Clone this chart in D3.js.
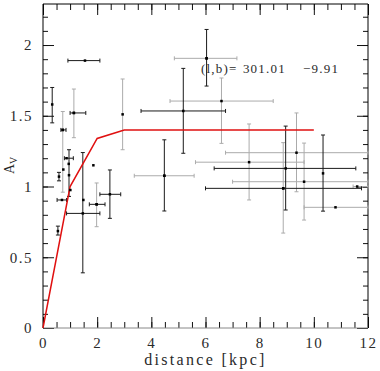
<!DOCTYPE html>
<html>
<head>
<meta charset="utf-8">
<script src="https://cdn.jsdelivr.net/npm/d3@7"></script>
<style>
  body { margin: 0; background: #fff; }
  text { font-family: "Liberation Serif", serif; fill: #2a2a2a; }
</style>
</head>
<body>
<svg id="chart" width="380" height="371"></svg>
<script>
// points with dark error bars
const blackX   = [1.55, 0.34, 1.14, 0.73, 0.87, 0.95, 0.75, 0.59, 0.96, 1.01, 0.70, 1.49, 1.47, 1.86, 1.98, 2.47, 0.55, 4.48, 6.04, 5.18, 8.96, 8.87, 10.34]
const blackY   = [1.89, 1.58, 1.52, 1.40, 1.20, 1.16, 1.12, 1.07, 1.08, 0.975, 0.905, 0.905, 0.81, 1.15, 0.874, 0.945, 0.685, 1.076, 1.906, 1.534, 1.128, 0.987, 1.093]
const blackXlo = [0.92, null, 1.00, 0.66, 0.79, null, null, null, null, null, 0.52, null, 0.87, null, 1.71, 2.10, null, null, null, 3.62, 6.32, 6.00, null]
const blackXhi = [2.10, null, 1.58, 0.85, 1.12, null, null, null, null, null, 0.87, null, 2.10, null, 2.29, 2.87, null, null, null, 6.74, 11.55, 11.76, null]
const blackYlo = [null, 1.45, null, null, null, null, null, 1.04, 0.93, null, null, null, 0.39, null, null, 0.775, 0.657, 0.827, 1.71, 1.235, 0.834, null, 0.826]
const blackYhi = [null, 1.70, null, null, null, null, null, 1.10, 1.26, null, null, null, 1.24, null, null, 1.117, 0.72, 1.33, 2.11, 1.835, 1.427, null, 1.364]

// points with light error bars
const greyX   = [2.94, 6.59, 7.61, 9.36, 9.64, 10.8, 11.6, 1.14, 0.73, 4.48, 6.04, 8.87, 1.98]
const greyY   = [1.51, 1.604, 1.172, 1.239, 1.034, 0.853, 1.0, 1.52, 1.40, 1.076, 1.906, 0.987, 0.874]
const greyXlo = [null, 4.69, 5.63, 6.74, 7.00, 9.64, 11.45, null, null, 3.37, 4.85, null, null]
const greyXhi = [null, 8.50, 9.64, 12.0, 12.0, 12.0, 12.0, null, null, 5.58, 7.16, null, null]
const greyYlo = [1.26, 1.305, 0.905, 0.963, 0.763, null, null, 1.345, 0.96, null, null, 0.671, 0.716]
const greyYhi = [1.76, 1.767, 1.442, 1.52, 1.307, null, null, 1.689, 1.53, null, null, 1.31, 1.025]

// extinction model
const modelX = [0, 1, 2, 3, 10]
const modelY = [0, 1.0, 1.34, 1.40, 1.40]

const xTicks = [0, 2, 4, 6, 8, 10, 12]
const yTicks = [0, 0.5, 1, 1.5, 2]
const lonLat = ['(l,b)=', '301.01', '\u22129.91']

const margin = {left: 43, top: 4, right: 12, bottom: 43}
const w = 380, h = 371
const svg = d3.select('#chart')

const x = d3.scaleLinear().domain([0, 12]).range([margin.left, w - margin.right])
const y = d3.scaleLinear().domain([0, 2.29]).range([h - margin.bottom, margin.top])
const x0 = margin.left, x1 = w - margin.right, y0 = h - margin.bottom, y1 = margin.top

// minor ticks
const xMinor = d3.range(0, 12.01, 0.5)
const yMinor = d3.range(0, 2.29, 0.1)
svg.append('g').attr('transform', `translate(0,${y0})`)
  .call(d3.axisBottom(x).tickValues(xMinor).tickSize(-6).tickFormat(''))
svg.append('g').attr('transform', `translate(0,${y1})`)
  .call(d3.axisTop(x).tickValues(xMinor).tickSize(-6).tickFormat(''))
svg.append('g').attr('transform', `translate(${x0},0)`)
  .call(d3.axisLeft(y).tickValues(yMinor).tickSize(-5).tickFormat(''))
svg.append('g').attr('transform', `translate(${x1},0)`)
  .call(d3.axisRight(y).tickValues(yMinor).tickSize(-5).tickFormat(''))

// major ticks + labels
svg.append('g').attr('transform', `translate(0,${y0})`)
  .call(d3.axisBottom(x).tickValues(xTicks).tickSize(-11).tickPadding(9).tickFormat(d3.format('d')))
svg.append('g').attr('transform', `translate(0,${y1})`)
  .call(d3.axisTop(x).tickValues(xTicks).tickSize(-11).tickFormat(''))
svg.append('g').attr('transform', `translate(${x0},0)`)
  .call(d3.axisLeft(y).tickValues(yTicks).tickSize(-11).tickPadding(10).tickFormat(d => d))
svg.append('g').attr('transform', `translate(${x1},0)`)
  .call(d3.axisRight(y).tickValues(yTicks).tickSize(-11).tickFormat(''))

svg.selectAll('.domain').remove()
svg.selectAll('.tick line').attr('stroke', '#111')
svg.selectAll('.tick text').attr('font-size', 15).attr('font-family', '"Liberation Serif", serif')
  .attr('fill', '#2a2a2a').style('letter-spacing', '1.5px')

// frame
svg.append('line').attr('x1', x0).attr('x2', x0).attr('y1', y1).attr('y2', y0).attr('stroke', '#000')
svg.append('line').attr('x1', x0).attr('x2', x1).attr('y1', y1).attr('y2', y1).attr('stroke', '#000')
svg.append('line').attr('x1', x1).attr('x2', x1).attr('y1', y1).attr('y2', y0).attr('stroke', '#000')
svg.append('line').attr('x1', x0).attr('x2', x1).attr('y1', y0).attr('y2', y0).attr('stroke', '#888')

function drawSeries(xs, ys, xlo, xhi, ylo, yhi, color) {
  const g = svg.append('g').attr('stroke', color).attr('stroke-width', 1)
  xs.forEach((v, i) => {
    const px = x(v), py = y(ys[i])
    if (xlo[i] != null) {
      g.append('line').attr('x1', x(xlo[i])).attr('x2', x(xhi[i])).attr('y1', py).attr('y2', py)
      g.append('line').attr('x1', x(xlo[i])).attr('x2', x(xlo[i])).attr('y1', py - 2).attr('y2', py + 2)
      g.append('line').attr('x1', x(xhi[i])).attr('x2', x(xhi[i])).attr('y1', py - 2).attr('y2', py + 2)
    }
    if (ylo[i] != null) {
      g.append('line').attr('x1', px).attr('x2', px).attr('y1', y(ylo[i])).attr('y2', y(yhi[i]))
      g.append('line').attr('x1', px - 2).attr('x2', px + 2).attr('y1', y(ylo[i])).attr('y2', y(ylo[i]))
      g.append('line').attr('x1', px - 2).attr('x2', px + 2).attr('y1', y(yhi[i])).attr('y2', y(yhi[i]))
    }
  })
}
drawSeries(greyX, greyY, greyXlo, greyXhi, greyYlo, greyYhi, '#ababab')
drawSeries(blackX, blackY, blackXlo, blackXhi, blackYlo, blackYhi, '#1a1a1a')

// model curve
svg.append('path')
  .datum(modelX.map((v, i) => [v, modelY[i]]))
  .attr('fill', 'none').attr('stroke', '#e01010').attr('stroke-width', 1.5)
  .attr('d', d3.line().x(d => x(d[0])).y(d => y(d[1])))

// data points
svg.append('g').selectAll('rect')
  .data(greyX.map((v, i) => [v, greyY[i]]).concat(blackX.map((v, i) => [v, blackY[i]])))
  .enter().append('rect')
  .attr('x', d => x(d[0]) - 1.25).attr('y', d => y(d[1]) - 1.25)
  .attr('width', 2.5).attr('height', 2.5).attr('fill', '#000')

// labels
svg.append('text').attr('x', (x0 + x1) / 2).attr('y', 365).attr('text-anchor', 'middle')
  .attr('font-size', 16).style('letter-spacing', '2.3px').text('distance [kpc]')

const yl = svg.append('text').attr('transform', 'translate(14,174) rotate(-90)').attr('font-size', 14)
yl.append('tspan').text('A')
yl.append('tspan').attr('font-size', 10).attr('dy', 3).text('V')

const annX = [5.83, 7.38, 9.6]
lonLat.forEach((t, i) => {
  svg.append('text').attr('x', x(annX[i])).attr('y', y(1.80)).attr('font-size', 13)
    .style('letter-spacing', '1.2px').text(t)
})
</script>
</body>
</html>
